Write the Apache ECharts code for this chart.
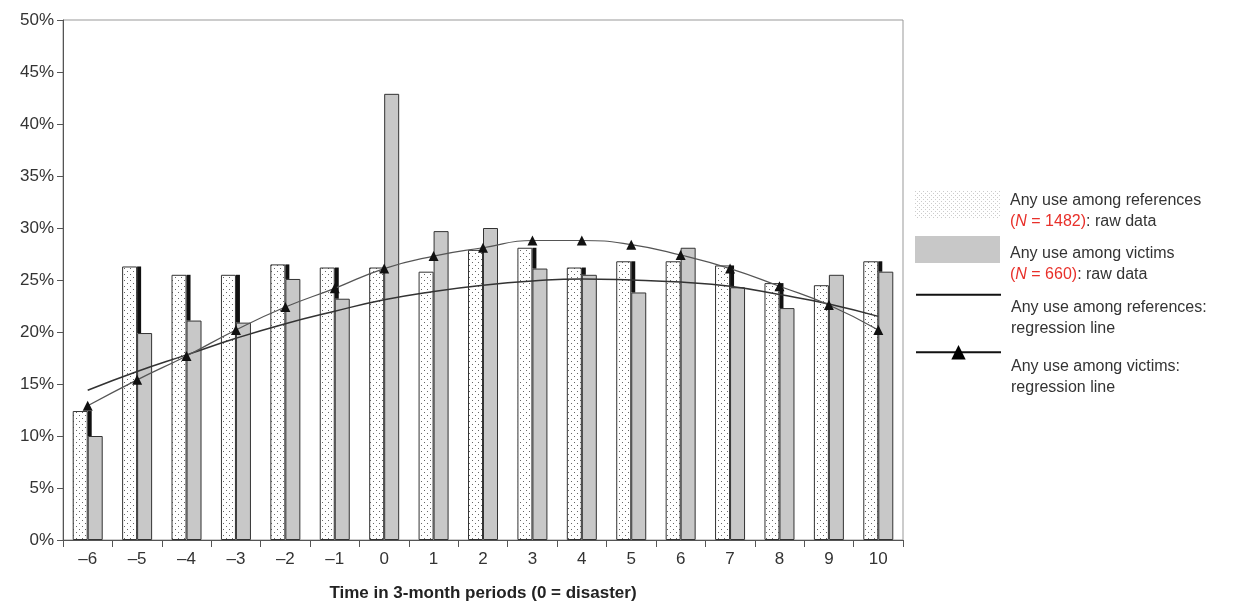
<!DOCTYPE html>
<html>
<head>
<meta charset="utf-8">
<script src="https://cdn.jsdelivr.net/npm/echarts@6/dist/echarts.min.js"></script>
<style>
  html, body { margin: 0; padding: 0; background: #fff; }
  #chart { width: 1236px; height: 604px; }
</style>
</head>
<body>
<div id="chart"></div>
<script>
// time in 3-month periods (0 = disaster)
const periods = ['–6', '–5', '–4', '–3', '–2', '–1', '0', '1', '2', '3', '4', '5', '6', '7', '8', '9', '10']

// any use, % (raw data)
const refRaw = [12.4, 26.3, 25.5, 25.5, 26.5, 26.2, 26.2, 25.8, 27.9, 28.1, 26.2, 26.8, 26.8, 26.4, 24.7, 24.5, 26.8]
const vicRaw = [10.0, 19.9, 21.1, 20.9, 25.1, 23.2, 42.9, 29.7, 30.0, 26.1, 25.5, 23.8, 28.1, 24.3, 22.3, 25.5, 25.8]

// regression lines, %
const refFit = [14.4, 16.2, 17.8, 19.4, 20.8, 22.0, 23.1, 23.9, 24.5, 24.9, 25.1, 25.0, 24.8, 24.4, 23.6, 22.7, 21.5]
const vicFit = [12.9, 15.4, 17.7, 20.2, 22.4, 24.2, 26.1, 27.3, 28.1, 28.8, 28.8, 28.4, 27.4, 26.1, 24.4, 22.6, 20.2]

const yTicks = { min: 0, max: 50, step: 5 }

const names = {
  refRaw: 'refRaw',
  vicRaw: 'vicRaw',
  refFit: 'refFit',
  vicFit: 'vicFit',
}

// dotted fill used by the reference bars
function dotPattern() {
  const c = document.createElement('canvas')
  c.width = 6
  c.height = 6
  const ctx = c.getContext('2d')
  ctx.fillStyle = '#fff'
  ctx.fillRect(0, 0, 6, 6)
  ctx.fillStyle = '#666'
  ctx.fillRect(1, 1, 1, 1)
  ctx.fillRect(4, 4, 1, 1)
  return c
}

function lightDotPattern() {
  const c = document.createElement('canvas')
  c.width = 4
  c.height = 4
  const ctx = c.getContext('2d')
  ctx.fillStyle = '#fff'
  ctx.fillRect(0, 0, 4, 4)
  ctx.fillStyle = '#ccc'
  ctx.fillRect(0, 0, 1, 1)
  ctx.fillRect(2, 2, 1, 1)
  return c
}

const font = '"Liberation Sans", Arial, sans-serif'
const chart = echarts.init(document.getElementById('chart'))

const legendText = {
  fontFamily: font,
  fontSize: 16,
  color: '#333',
  rich: {
    a: { fontFamily: font, fontSize: 16, color: '#333', lineHeight: 21 },
    r: { fontFamily: font, fontSize: 16, color: '#e8302a', lineHeight: 21 },
    i: { fontFamily: font, fontSize: 16, color: '#e8302a', fontStyle: 'italic', lineHeight: 21 },
  },
}

const legendLabels = {
  refRaw: '{a|Any use among references}\n{r|(}{i|N}{r| = 1482)}{a|: raw data}',
  vicRaw: '{a|Any use among victims}\n{r|(}{i|N}{r| = 660)}{a|: raw data}',
  refFit: '{a|Any use among references:}\n{a|regression line}',
  vicFit: '{a|Any use among victims:}\n{a|regression line}',
}

function legendItem(name, top, shift, h, icon) {
  return {
    data: [icon ? { name: name, icon: icon } : name],
    orient: 'vertical',
    left: 910,
    top: top,
    itemWidth: 85,
    itemHeight: h,
    itemGap: 0,
    selectedMode: false,
    formatter: (n) => legendLabels[n],
    textStyle: Object.assign({}, legendText, { padding: [shift, 0, 0, 5] }),
  }
}

chart.setOption({
  animation: false,
  backgroundColor: '#fff',
  textStyle: { fontFamily: font },
  grid: {
    left: 63,
    right: 333,
    top: 20,
    bottom: 64,
    outerBoundsMode: 'none',
    show: true,
    borderColor: '#999',
    borderWidth: 1,
  },
  legend: [
    Object.assign(legendItem(names.refRaw, 186, 13, 27, 'rect'), {
      itemStyle: { color: { image: lightDotPattern(), repeat: 'repeat' }, borderWidth: 0 },
    }),
    Object.assign(legendItem(names.vicRaw, 231, 29, 27, 'rect'), { itemStyle: { borderWidth: 0 } }),
    Object.assign(legendItem(names.refFit, 279, 46, 27), {
      itemStyle: { opacity: 0 },
      lineStyle: { color: '#111', width: 2 },
    }),
    Object.assign(legendItem(names.vicFit, 340, 50, 18), {
      itemStyle: { color: '#000' },
      lineStyle: { color: '#111', width: 2 },
    }),
  ],
  xAxis: {
    type: 'category',
    data: periods,
    boundaryGap: true,
    name: 'Time in 3-month periods (0 = disaster)',
    nameLocation: 'middle',
    nameGap: 45,
    nameTextStyle: { fontFamily: font, fontSize: 17, fontWeight: 'bold', color: '#222' },
    axisLine: { lineStyle: { color: '#555', width: 1 } },
    axisTick: { show: true, length: 7, lineStyle: { color: '#555' } },
    axisLabel: { interval: 0, fontFamily: font, fontSize: 17, color: '#333', margin: 11 },
    splitLine: { show: false },
  },
  yAxis: {
    type: 'value',
    min: yTicks.min,
    max: yTicks.max,
    interval: yTicks.step,
    axisLine: { show: true, lineStyle: { color: '#555', width: 1 } },
    axisTick: { show: true, length: 6, lineStyle: { color: '#555' } },
    axisLabel: { formatter: '{value}%', fontFamily: font, fontSize: 17, color: '#333', margin: 9 },
    splitLine: { show: false },
  },
  series: [
    {
      name: names.refRaw,
      type: 'bar',
      data: refRaw,
      barWidth: 15,
      barGap: '0%',
      itemStyle: {
        color: { image: dotPattern(), repeat: 'repeat' },
        borderColor: '#333',
        borderWidth: 1,
      },
      z: 2,
    },
    {
      name: names.vicRaw,
      type: 'bar',
      data: vicRaw,
      barWidth: 15,
      itemStyle: { color: '#c8c8c8', borderColor: '#333', borderWidth: 1 },
      z: 2,
    },
    {
      // dark step from reference top down to victim top
      name: 'diff',
      type: 'custom',
      data: periods.map((p, i) => [i, refRaw[i], vicRaw[i]]),
      renderItem: function (params, api) {
        const r = api.value(1)
        const v = api.value(2)
        if (r <= v) return
        const a = api.coord([api.value(0), r])
        const b = api.coord([api.value(0), v])
        return {
          type: 'rect',
          shape: { x: a[0], y: a[1], width: 4, height: b[1] - a[1] },
          style: { fill: '#111' },
        }
      },
      z: 3,
    },
    {
      name: names.refFit,
      type: 'line',
      data: refFit,
      smooth: true,
      symbol: 'none',
      lineStyle: { color: '#333', width: 1.5 },
      itemStyle: { color: '#333' },
      z: 4,
    },
    {
      name: names.vicFit,
      type: 'line',
      data: vicFit,
      smooth: true,
      symbol: 'triangle',
      symbolSize: 10,
      lineStyle: { color: '#555', width: 1.2 },
      itemStyle: { color: '#111' },
      z: 5,
    },
  ],
})
</script>
</body>
</html>
